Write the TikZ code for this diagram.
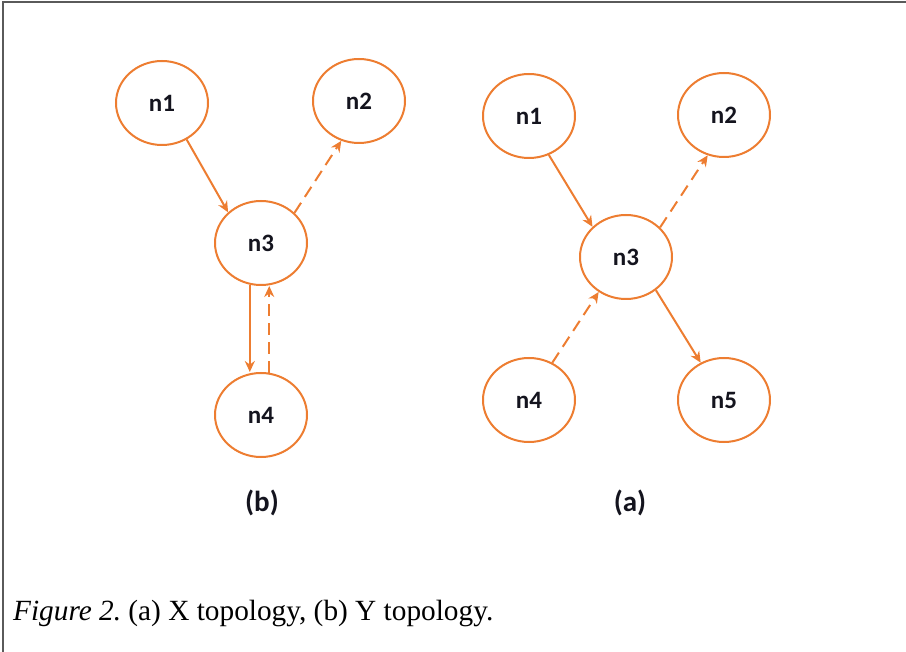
\documentclass[tikz,border=0pt]{standalone}
\usepackage{fontspec}
\setmainfont{Liberation Serif}
\newfontfamily\labelfont{Carlito}
\usetikzlibrary{shapes.geometric,arrows.meta}
\definecolor{office}{RGB}{237,125,49}
\definecolor{framegray}{RGB}{90,90,90}
\definecolor{labelink}{RGB}{20,20,30}
\frenchspacing
\tikzset{
  vertex/.style={ellipse, draw=office, line width=2pt, fill=white,
    minimum width=92pt, minimum height=84pt, inner sep=0pt,
    font=\labelfont\bfseries\fontsize{25}{29}\selectfont, text=labelink},
  sublabel/.style={font=\labelfont\bfseries\fontsize{29}{33}\selectfont, text=labelink},
  solidarrow/.style={draw=office, line width=2pt, -{Stealth[length=11pt,width=10pt]}},
  dasharrow/.style={solidarrow, dash pattern=on 12pt off 7pt},
}
\begin{document}
\begin{tikzpicture}[x=1pt,y=1pt]
\useasboundingbox (0,0) rectangle (906,-652);
% frame
\coordinate (ftl) at (3,-2);
\coordinate (ftr) at (906,-2);
\coordinate (fbl) at (3,-652);
\draw[framegray, line width=1.5pt] (ftr) -- (ftl) -- (fbl);

% (b) Y topology
\node[vertex] (b1) at (162,-103) {n1};
\node[vertex] (b2) at (359,-101) {n2};
\node[vertex] (b3) at (261,-243) {n3};
\node[vertex] (b4) at (261,-415) {n4};
\node[sublabel] (blab) at (262,-503) {(b)};

\draw[solidarrow] (b1.-56) -- (b3.137);
\draw[dasharrow] (b3.42) -- (b2.-114);
\draw[solidarrow] (b3.-105) -- (b3.-105 |- b4.north);
\draw[dasharrow] (b4.79) -- (b4.79 |- b3.south);

% (a) X topology
\node[vertex] (a1) at (529,-116) {n1};
\node[vertex] (a2) at (724,-115) {n2};
\node[vertex] (a3) at (626,-257) {n3};
\node[vertex] (a4) at (529,-400) {n4};
\node[vertex] (a5) at (724,-400) {n5};
\node[sublabel] (alab) at (630,-503) {(a)};

\draw[solidarrow] (a1.-63) -- (a3.138);
\draw[dasharrow] (a3.41) -- (a2.-112);
\draw[dasharrow] (a4.58) -- (a3.-128);
\draw[solidarrow] (a3.-48) -- (a5.122);

% caption
\node[anchor=base west, inner sep=0pt, font=\fontsize{29.3}{33}\selectfont] (cap) at (13,-620)
  {\textit{Figure 2.} (a) X topology, (b) Y topology.};
\end{tikzpicture}
\end{document}
